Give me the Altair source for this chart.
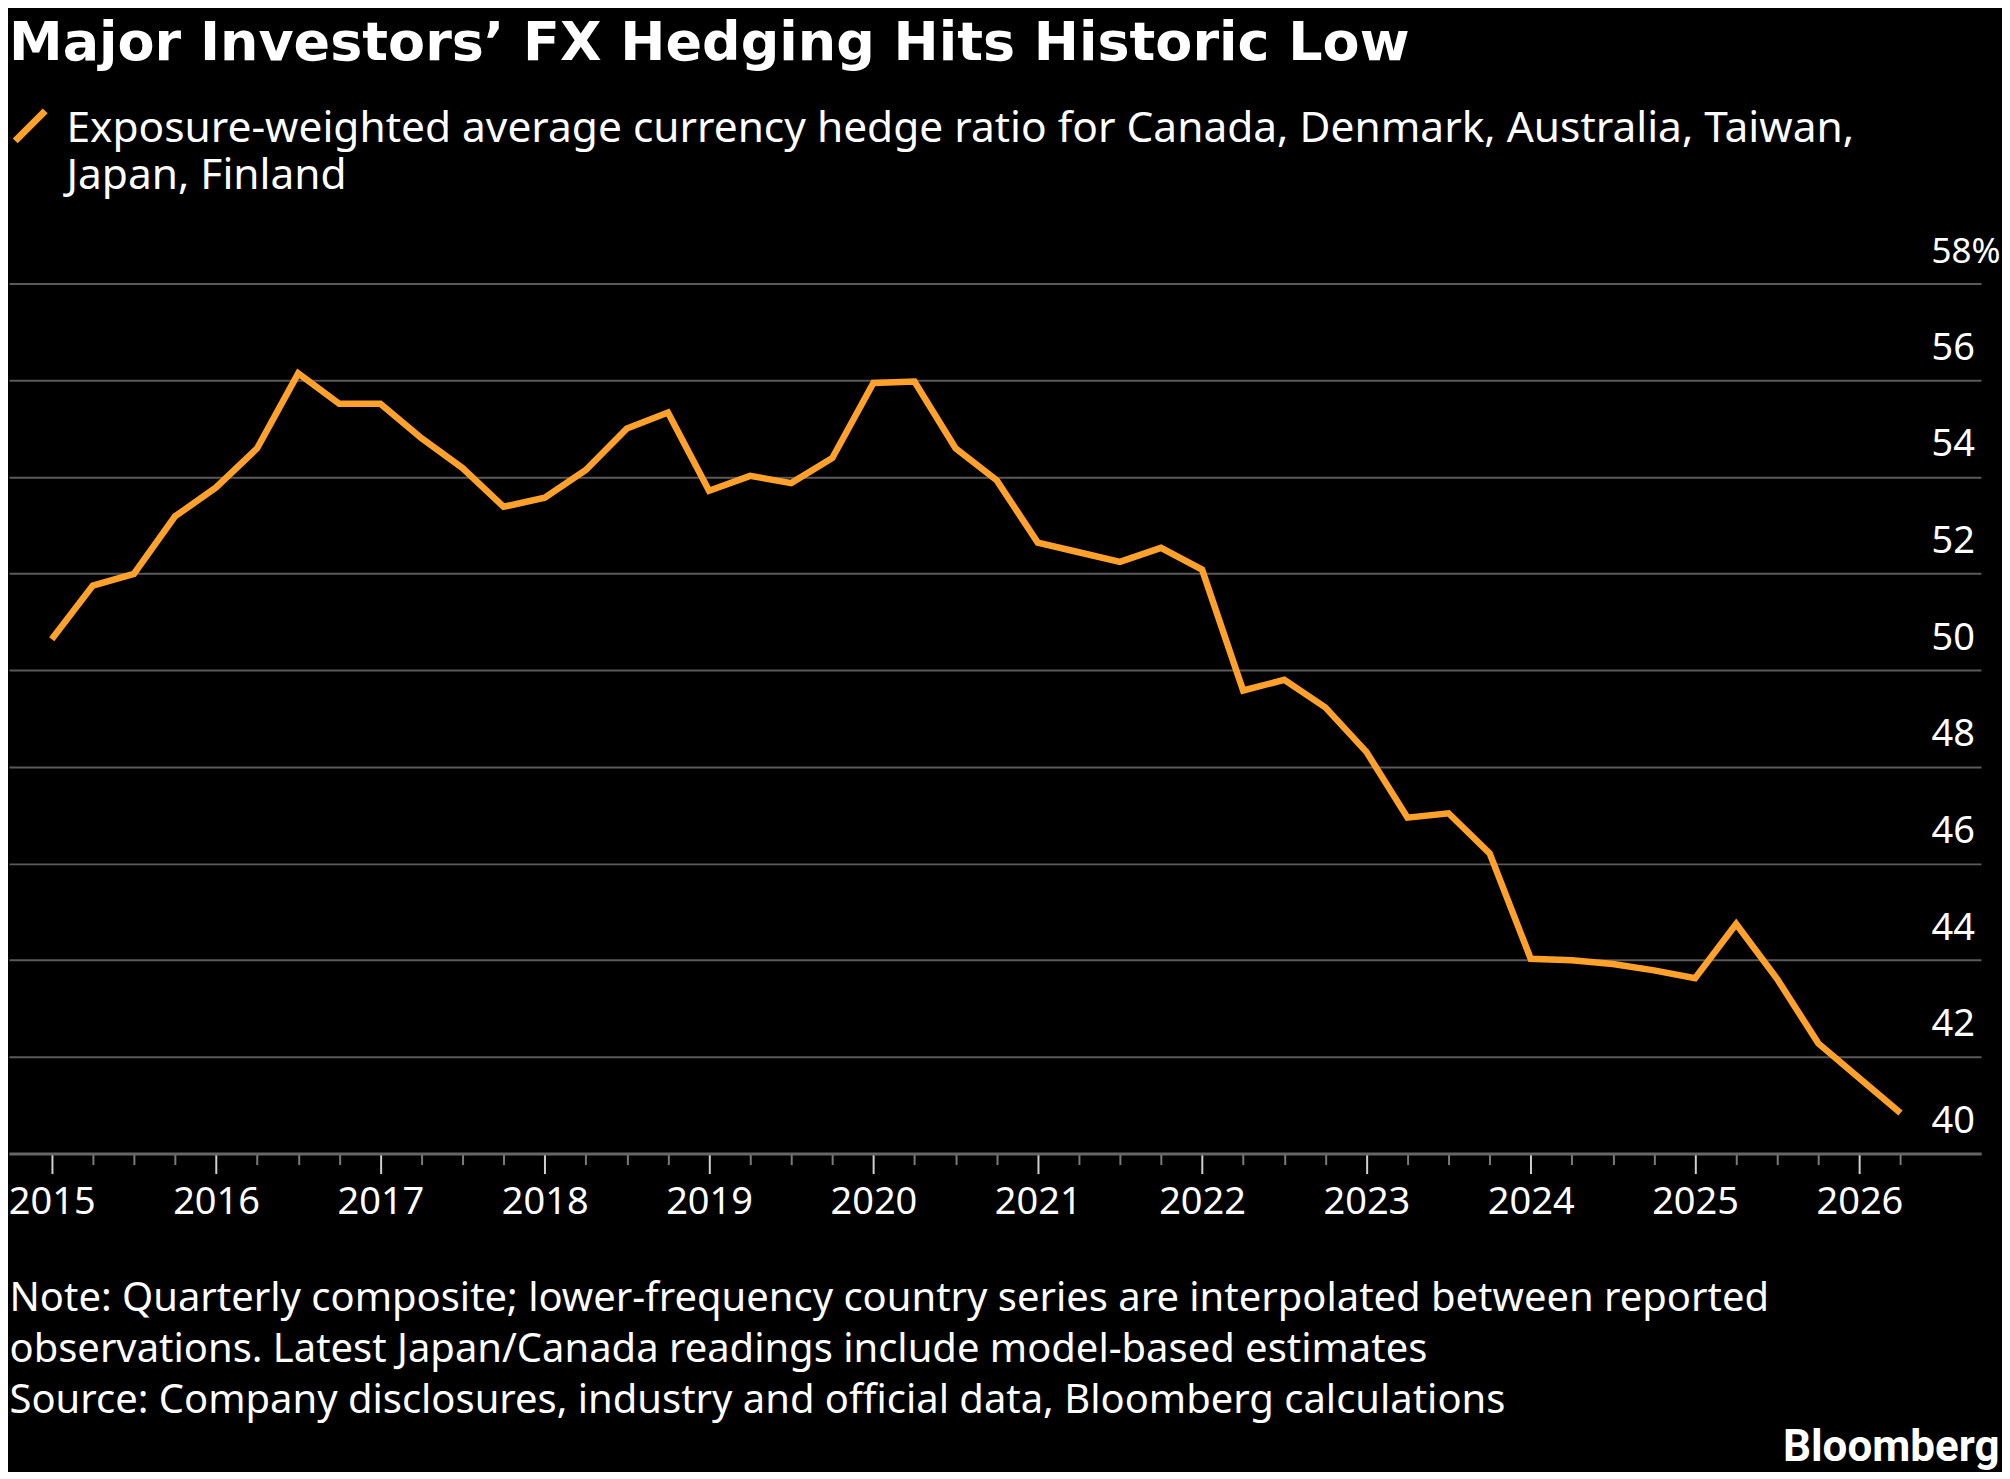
import altair as alt
import pandas as pd

# ---- text ----
TITLE = "Major Investors’ FX Hedging Hits Historic Low"
SERIES = ("Exposure-weighted average currency hedge ratio for Canada, Denmark, "
          "Australia, Taiwan, Japan, Finland")
NOTE_LINES = [
    "Note: Quarterly composite; lower-frequency country series are interpolated between reported",
    "observations. Latest Japan/Canada readings include model-based estimates",
    "Source: Company disclosures, industry and official data, Bloomberg calculations",
]
CREDIT = "Bloomberg"

# ---- data (quarterly, 2015 Q1 .. 2026 Q2) ----
quarter_year = [y for y in range(2015, 2027) for _ in range(4)][:46]
quarter_num = [q for _ in range(2015, 2027) for q in (1, 2, 3, 4)][:46]
hedge_ratio = [
    50.64, 51.75, 51.99, 53.18,   # 2015
    53.78, 54.59, 56.14, 55.51,   # 2016
    55.51, 54.80, 54.18, 53.38,   # 2017
    53.57, 54.14, 55.00, 55.33,   # 2018
    53.71, 54.02, 53.87, 54.39,   # 2019
    55.94, 55.97, 54.59, 53.93,   # 2020
    52.64, 52.44, 52.24, 52.53,   # 2021
    52.08, 49.58, 49.80, 49.23,   # 2022
    48.31, 46.95, 47.04, 46.21,   # 2023
    44.03, 44.00, 43.92, 43.79,   # 2024
    43.63, 44.75, 43.61, 42.28,   # 2025
    41.56, 40.84,                 # 2026
]
year_labels = list(range(2015, 2027))
y_ticks = [40, 42, 44, 46, 48, 50, 52, 54, 56, 58]

df = pd.DataFrame({
    "year": quarter_year,
    "quarter": quarter_num,
    "ratio": hedge_ratio,
    "series": SERIES,
})
df["t"] = df["year"] + (df["quarter"] - 1) / 4.0
tick_positions = df["t"].tolist()

ORANGE = "#FFA12B"
WHITE = "#FFFFFF"

x_axis = alt.Axis(
    orient="bottom",
    values=tick_positions,
    labelExpr="datum.value % 1 == 0 ? format(datum.value, 'd') : ''",
    labelFont="Noto Sans", labelFontSize=38, labelColor=WHITE,
    labelBaseline="alphabetic", labelPadding=40,
    labelFlush=False, labelOverlap=False,
    ticks=True, tickSize=20, tickWidth=2,
    tickColor={"condition": {"test": "datum.value % 1 == 0", "value": "#CFCFCF"}, "value": "#7A7A7A"},
    tickDash={"condition": {"test": "datum.value % 1 != 0", "value": [11, 40]}, "value": [20, 0]},
    domain=True, domainColor="#666666", domainWidth=3,
    grid=False,
    title=NOTE_LINES,
    titleFont="Noto Sans", titleFontSize=40, titleFontWeight="normal", titleColor=WHITE,
    titleAnchor="start", titleAlign="left", titleBaseline="alphabetic",
    titleX=0, titleY=157, titleLineHeight=51, titleLimit=1990,
)

y_axis = alt.Axis(
    orient="right",
    values=y_ticks,
    labelExpr="datum.value == 58 ? datum.label + '%' : datum.label",
    labelFont="Noto Sans", labelColor=WHITE,
    labelFontSize={"condition": {"test": "datum.value == 58", "value": 35}, "value": 38},
    labelAlign="left", labelBaseline="alphabetic",
    labelPadding=-50, labelOffset=-21,
    labelFlush=False, labelOverlap=False,
    ticks=False, tickSize=0, domain=False,
    grid=True, gridColor="#5A5A5A", gridWidth=2,
    title=CREDIT, titleAngle=0, titleAlign="right", titleBaseline="alphabetic",
    titleX=18, titleY=1178,
    titleFont="Roboto", titleFontWeight="bold", titleFontSize=44, titleColor=WHITE,
    titleLimit=400,
)

legend = alt.Legend(
    orient="none", legendX=0, legendY=-197, title=None, padding=0,
    symbolType="M-1,2.2L1,0.2", symbolSize=900, symbolStrokeWidth=7,
    symbolFillColor="transparent", symbolStrokeColor=ORANGE,
    labelFont="Noto Sans", labelFontSize=42.5, labelColor=WHITE,
    labelBaseline="top", labelLimit=0, labelOffset=15,
    labelExpr=("[slice(datum.label, 0, indexof(datum.label, ' Japan')), "
               "slice(datum.label, indexof(datum.label, ' Japan') + 1)]"),
)

line = alt.Chart(df).mark_line(strokeWidth=6.5, strokeJoin="miter").encode(
    x=alt.X("t:Q", scale=alt.Scale(domain=[2014.74, 2026.74], nice=False, zero=False), axis=x_axis),
    y=alt.Y("ratio:Q", scale=alt.Scale(domain=[40, 58], nice=False, zero=False), axis=y_axis),
    color=alt.Color("series:N", scale=alt.Scale(domain=[SERIES], range=[ORANGE]), legend=legend),
)

chart = line.properties(
    width=1974,
    height=871,
    title=alt.TitleParams(
        text=TITLE, anchor="start", frame="group", orient="top",
        baseline="alphabetic", font="DejaVu Sans", fontSize=54,
        fontWeight="bold", color=WHITE, offset=-27,
    ),
    padding={"left": 0, "top": 8, "right": 1, "bottom": 2},
    background="#000000",
).configure(
    view=alt.ViewConfig(stroke=None),
    style={"guide-label": {"lineHeight": 47}},
)

chart.save("out.html", embed_options={"renderer": "svg", "actions": False})
